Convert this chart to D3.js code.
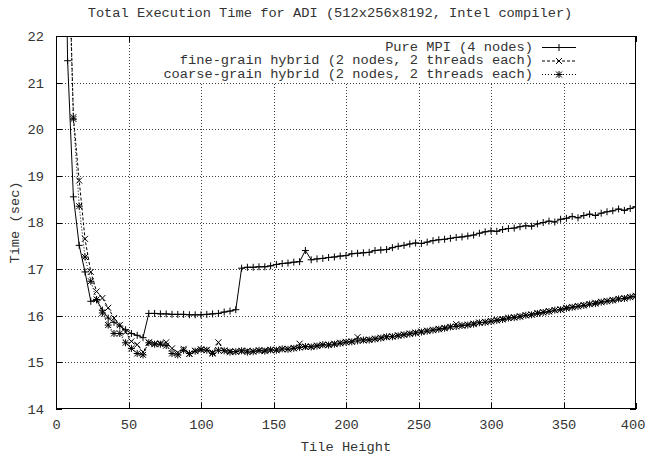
<!DOCTYPE html>
<html>
<head>
<meta charset="utf-8">
<script src="https://cdn.jsdelivr.net/npm/d3@7"></script>
<style>
  html, body { margin: 0; padding: 0; background: #fff; }
  svg { display: block; }
  text { font-family: "Liberation Mono", "DejaVu Sans Mono", monospace; font-size: 13.7px; fill: #333; }
</style>
</head>
<body>
<svg id="chart" width="646" height="456"></svg>
<script>
// ---------- data ----------
const tileHeights = [
  4, 8, 12, 16, 20, 24, 28, 32, 36, 40, 44, 48, 52, 56, 60, 64, 68, 72, 76, 80,
  84, 88, 92, 96, 100, 104, 108, 112, 116, 120, 124, 128, 132, 136, 140, 144, 148, 152, 156, 160,
  164, 168, 172, 176, 180, 184, 188, 192, 196, 200, 204, 208, 212, 216, 220, 224, 228, 232, 236, 240,
  244, 248, 252, 256, 260, 264, 268, 272, 276, 280, 284, 288, 292, 296, 300, 304, 308, 312, 316, 320,
  324, 328, 332, 336, 340, 344, 348, 352, 356, 360, 364, 368, 372, 376, 380, 384, 388, 392, 396, 400
];
const pureMPI = [
  30.0, 21.47, 18.55, 17.51, 16.94, 16.31, 16.34, 16.12, 15.95, 15.86, 15.78, 15.70, 15.62, 15.58, 15.53, 16.05, 16.05, 16.04, 16.04, 16.03,
  16.03, 16.03, 16.02, 16.02, 16.02, 16.03, 16.04, 16.05, 16.08, 16.10, 16.13, 17.02, 17.04, 17.04, 17.05, 17.05, 17.07, 17.10, 17.12, 17.13,
  17.15, 17.16, 17.40, 17.20, 17.22, 17.23, 17.25, 17.26, 17.28, 17.29, 17.33, 17.34, 17.35, 17.36, 17.40, 17.41, 17.42, 17.46, 17.49, 17.51,
  17.54, 17.56, 17.55, 17.58, 17.61, 17.63, 17.64, 17.66, 17.68, 17.69, 17.71, 17.73, 17.77, 17.80, 17.82, 17.81, 17.85, 17.87, 17.88, 17.91,
  17.93, 17.92, 17.97, 18.00, 18.03, 18.01, 18.07, 18.09, 18.13, 18.10, 18.15, 18.18, 18.15, 18.20, 18.23, 18.25, 18.29, 18.26, 18.30, 18.34
];
const fineGrain = [
  30.0, 24.9, 20.26, 18.90, 17.65, 16.94, 16.52, 16.38, 16.17, 15.95, 15.80, 15.65, 15.45, 15.38, 15.22, 15.43, 15.40, 15.41, 15.43, 15.30,
  15.21, 15.29, 15.18, 15.25, 15.27, 15.27, 15.21, 15.43, 15.25, 15.24, 15.23, 15.24, 15.25, 15.24, 15.25, 15.26, 15.26, 15.27, 15.28, 15.29,
  15.31, 15.40, 15.33, 15.34, 15.36, 15.37, 15.38, 15.40, 15.42, 15.44, 15.45, 15.54, 15.47, 15.49, 15.51, 15.53, 15.54, 15.56, 15.58, 15.60,
  15.62, 15.64, 15.66, 15.68, 15.70, 15.72, 15.74, 15.76, 15.82, 15.79, 15.81, 15.83, 15.85, 15.87, 15.89, 15.91, 15.93, 15.95, 15.97, 15.99,
  16.01, 16.03, 16.06, 16.08, 16.10, 16.12, 16.14, 16.17, 16.19, 16.21, 16.23, 16.25, 16.28, 16.30, 16.32, 16.34, 16.36, 16.38, 16.40, 16.43
];
const coarseGrain = [
  30.0, 24.5, 20.22, 18.35, 17.26, 16.74, 16.35, 16.06, 15.80, 15.62, 15.62, 15.42, 15.30, 15.19, 15.16, 15.42, 15.39, 15.39, 15.36, 15.19,
  15.16, 15.26, 15.19, 15.24, 15.28, 15.26, 15.19, 15.26, 15.25, 15.22, 15.23, 15.25, 15.22, 15.23, 15.26, 15.24, 15.27, 15.26, 15.29, 15.28,
  15.30, 15.32, 15.34, 15.33, 15.35, 15.38, 15.37, 15.39, 15.41, 15.43, 15.44, 15.46, 15.48, 15.48, 15.50, 15.52, 15.55, 15.55, 15.57, 15.59,
  15.61, 15.63, 15.65, 15.67, 15.69, 15.71, 15.73, 15.76, 15.77, 15.79, 15.80, 15.82, 15.85, 15.86, 15.88, 15.90, 15.92, 15.95, 15.96, 15.98,
  16.01, 16.02, 16.05, 16.07, 16.09, 16.12, 16.13, 16.16, 16.18, 16.20, 16.22, 16.25, 16.26, 16.29, 16.31, 16.33, 16.36, 16.37, 16.40, 16.42
];
const seriesNames = [
  "Pure MPI (4 nodes)",
  "fine-grain hybrid (2 nodes, 2 threads each)",
  "coarse-grain hybrid (2 nodes, 2 threads each)"
];
const xTicks = [0, 50, 100, 150, 200, 250, 300, 350, 400];
const yTicks = [14, 15, 16, 17, 18, 19, 20, 21, 22];
const titleText = "Total Execution Time for ADI (512x256x8192, Intel compiler)";
const xLabel = "Tile Height";
const yLabel = "Time (sec)";

// ---------- layout ----------
const W = 646, H = 456;
const plot = { left: 56, right: 636, top: 36, bottom: 409 };

const svg = d3.select("#chart");
const x = d3.scaleLinear().domain([0, 400]).range([plot.left, plot.right]);
const y = d3.scaleLinear().domain([14, 22]).range([plot.bottom, plot.top]);

svg.append("defs").append("clipPath").attr("id", "clip")
  .append("rect")
  .attr("x", plot.left).attr("y", plot.top)
  .attr("width", plot.right - plot.left).attr("height", plot.bottom - plot.top);

// grid
const grid = svg.append("g").attr("shape-rendering", "crispEdges");
grid.selectAll("line.gx").data(xTicks.filter(d => d > 0 && d < 400)).join("line")
  .attr("x1", d => Math.round(x(d)) + 0.5).attr("x2", d => Math.round(x(d)) + 0.5)
  .attr("y1", plot.top).attr("y2", plot.bottom)
  .attr("stroke", "#000").attr("stroke-width", 1).attr("stroke-dasharray", "1,2").attr("opacity", 0.75);
grid.selectAll("line.gy").data(yTicks.filter(d => d > 14 && d < 22)).join("line")
  .attr("x1", plot.left).attr("x2", plot.right)
  .attr("y1", d => Math.round(y(d)) + 0.5).attr("y2", d => Math.round(y(d)) + 0.5)
  .attr("stroke", "#000").attr("stroke-width", 1).attr("stroke-dasharray", "1,2").attr("opacity", 0.75);

// axes (ticks inward, mirrored)
const tickLen = 6;
const axB = svg.append("g").attr("transform", `translate(0,${plot.bottom})`)
  .call(d3.axisBottom(x).tickValues(xTicks).tickSize(-tickLen).tickPadding(10));
const axT = svg.append("g").attr("transform", `translate(0,${plot.top})`)
  .call(d3.axisTop(x).tickValues(xTicks).tickSize(-tickLen).tickFormat(""));
const axL = svg.append("g").attr("transform", `translate(${plot.left},0)`)
  .call(d3.axisLeft(y).tickValues(yTicks).tickSize(-tickLen).tickPadding(12));
const axR = svg.append("g").attr("transform", `translate(${plot.right},0)`)
  .call(d3.axisRight(y).tickValues(yTicks).tickSize(-tickLen).tickFormat(""));
[axB, axT, axL, axR].forEach(a => {
  a.select(".domain").remove();
  a.selectAll(".tick line").attr("stroke", "#000").attr("shape-rendering", "crispEdges");
  a.selectAll("text").attr("font-family", null).attr("font-size", null).attr("fill", null);
});
// the last bottom label sits flush against the right edge of the picture
axB.selectAll(".tick text").filter(d => d === 400)
  .attr("text-anchor", "end").attr("x", 645 - plot.right);

// legend background (hides the grid behind the key)
const legendRight = 533, sampleX1 = 542, sampleX2 = 576;
const legendRowY = [47, 60.5, 74];
svg.append("rect")
  .attr("x", 150).attr("y", plot.top + 1)
  .attr("width", 432).attr("height", 45)
  .attr("fill", "#fff");

// series
const series = [
  { name: seriesNames[0], values: pureMPI, dash: null, marker: "plus" },
  { name: seriesNames[1], values: fineGrain, dash: "3,2", marker: "cross" },
  { name: seriesNames[2], values: coarseGrain, dash: "1,2", marker: "star" }
];

function markerPath(kind, cx, cy) {
  const p = 3.5, c = 3;
  const plus = `M${cx - p},${cy}H${cx + p}M${cx},${cy - p}V${cy + p}`;
  const cross = `M${cx - c},${cy - c}L${cx + c},${cy + c}M${cx - c},${cy + c}L${cx + c},${cy - c}`;
  if (kind === "plus") return plus;
  if (kind === "cross") return cross;
  return plus + cross;
}

const dataG = svg.append("g").attr("clip-path", "url(#clip)");
const line = d3.line().x(d => x(d[0])).y(d => y(d[1]));
series.forEach(s => {
  const pts = tileHeights.map((t, i) => [t, s.values[i]]);
  dataG.append("path").datum(pts)
    .attr("d", line)
    .attr("fill", "none").attr("stroke", "#000").attr("stroke-width", 1)
    .attr("stroke-dasharray", s.dash);
  dataG.append("path")
    .attr("d", pts.map(p => markerPath(s.marker, x(p[0]), y(p[1]))).join(""))
    .attr("fill", "none").attr("stroke", "#000").attr("stroke-width", 1);
});

// legend
series.forEach((s, i) => {
  const ry = legendRowY[i];
  svg.append("text").attr("x", legendRight).attr("y", ry)
    .attr("text-anchor", "end").attr("dominant-baseline", "central").text(s.name);
  svg.append("line").attr("x1", sampleX1).attr("x2", sampleX2).attr("y1", ry + 0.5).attr("y2", ry + 0.5)
    .attr("stroke", "#000").attr("stroke-width", 1).attr("stroke-dasharray", s.dash);
  svg.append("path").attr("d", markerPath(s.marker, (sampleX1 + sampleX2) / 2, ry + 0.5))
    .attr("fill", "none").attr("stroke", "#000").attr("stroke-width", 1);
});

// border
svg.append("rect")
  .attr("x", plot.left + 0.5).attr("y", plot.top + 0.5)
  .attr("width", plot.right - plot.left - 1).attr("height", plot.bottom - plot.top - 1)
  .attr("fill", "none").attr("stroke", "#000").attr("stroke-width", 1.5).attr("shape-rendering", "crispEdges");

// title and axis labels
svg.append("text").attr("x", 330).attr("y", 13).attr("text-anchor", "middle")
  .attr("dominant-baseline", "central").text(titleText);
svg.append("text").attr("x", (plot.left + plot.right) / 2).attr("y", 447).attr("text-anchor", "middle")
  .attr("dominant-baseline", "central").text(xLabel);
svg.append("text").attr("transform", `translate(15,${(plot.top + plot.bottom) / 2}) rotate(-90)`)
  .attr("text-anchor", "middle").attr("dominant-baseline", "central").text(yLabel);
</script>
</body>
</html>
